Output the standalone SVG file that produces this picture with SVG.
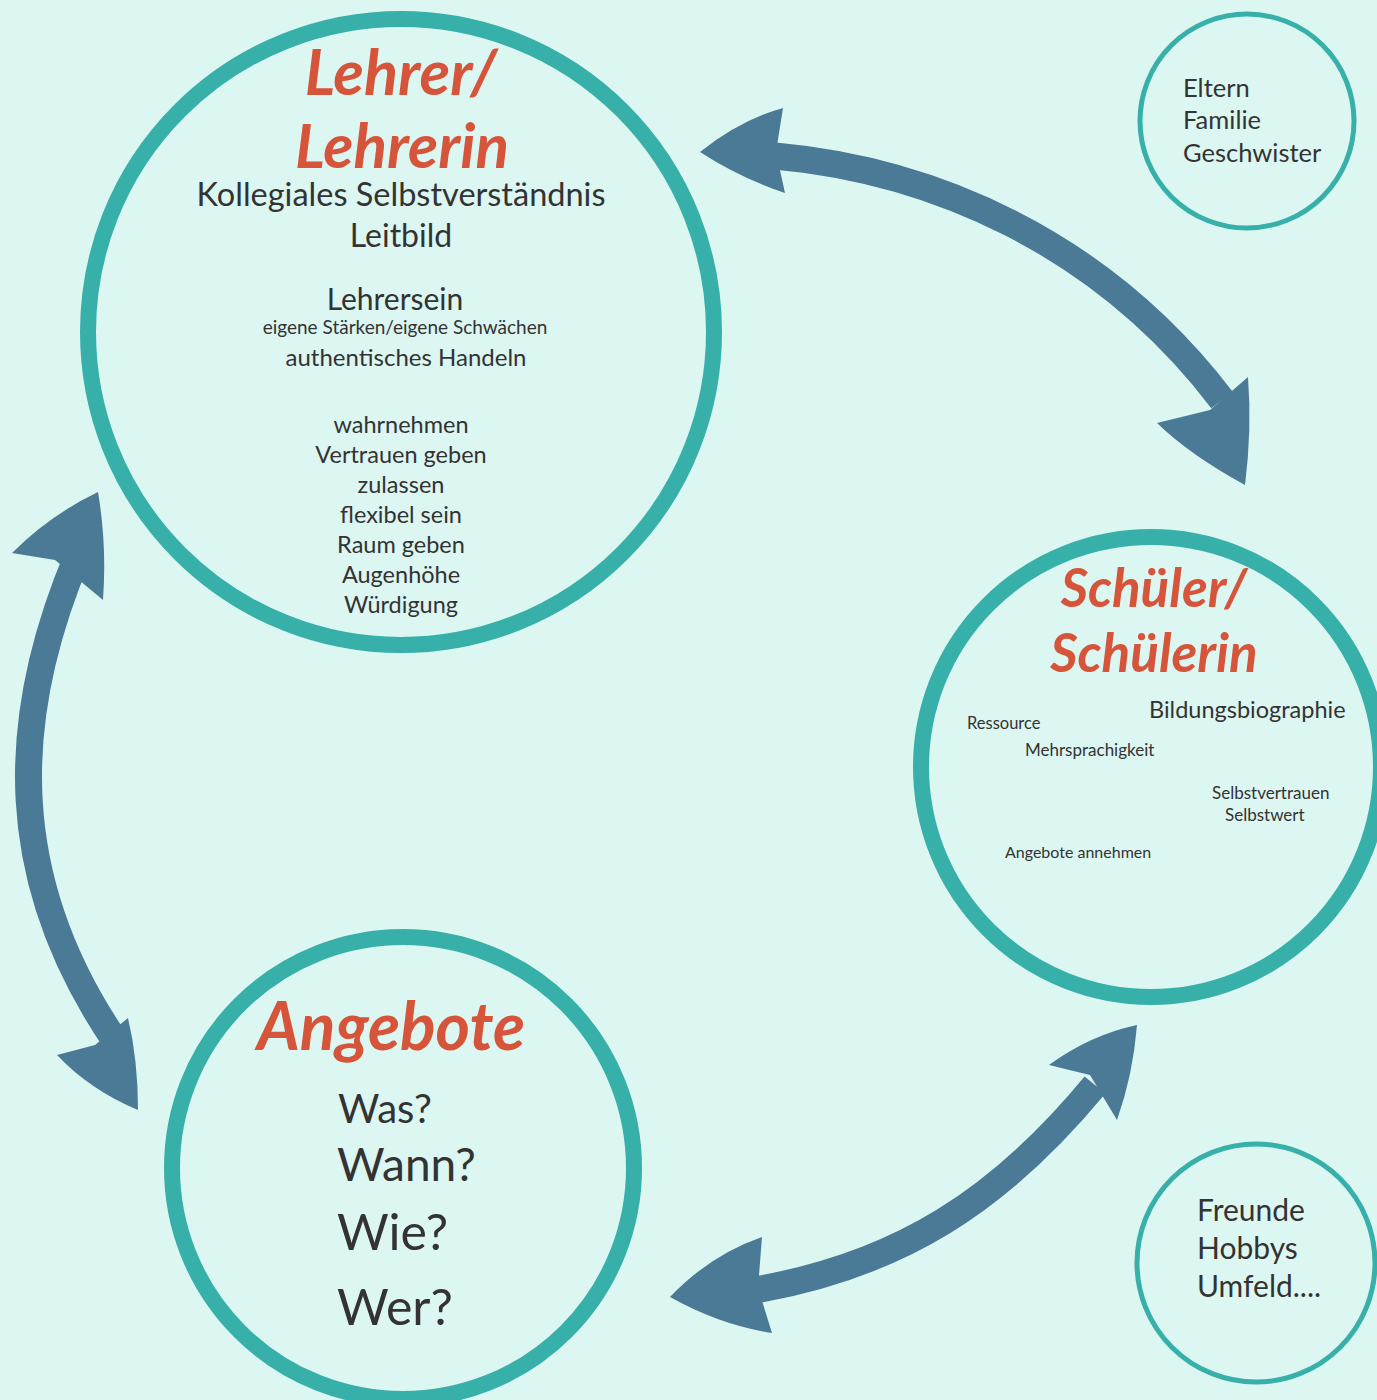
<svg xmlns="http://www.w3.org/2000/svg" width="1377" height="1400" viewBox="0 0 1377 1400">
<style>
.ring{fill:none;stroke:#37b0aa}
.big{stroke-width:16}
.small{stroke-width:5}
.title{font-family:Lato,"Open Sans",sans-serif;font-weight:bold;font-style:italic;fill:#d6553a}
.t{font-family:Lato,"Open Sans",sans-serif;fill:#333333}
.shaft{fill:none;stroke:#4a7a96;stroke-width:27}
.head{fill:#4a7a96}
</style>
<rect width="1377" height="1400" fill="#dcf6f2"/>
<g id="connectors">
  <path class="shaft" d="M775,156 C930,170 1100,240 1222,400"/>
  <path class="head" d="M700,152 Q740,120 783,108 L776,152 L785,193 Q740,178 700,152 Z"/>
  <path class="head" d="M1245,485 Q1190,455 1157,423 L1210,410 L1248,377 Q1252,430 1245,485 Z"/>
  <path class="shaft" d="M78,555 C8,720 5,880 116,1042"/>
  <path class="head" d="M98,492 Q50,515 12,553 L55,560 L103,600 Q107,545 98,492 Z"/>
  <path class="head" d="M138,1110 Q90,1090 57,1055 L95,1045 L128,1018 Q138,1060 138,1110 Z"/>
  <path class="shaft" d="M755,1290 C900,1265 1000,1200 1095,1085"/>
  <path class="head" d="M670,1297 Q710,1255 762,1237 L758,1288 L772,1333 Q720,1325 670,1297 Z"/>
  <path class="head" d="M1137,1025 Q1090,1035 1049,1065 L1090,1075 L1117,1120 Q1133,1075 1137,1025 Z"/>
</g>
<g id="lehrer">
  <circle class="ring big" cx="401" cy="332" r="313"/>
  <text class="title" x="401" y="95" font-size="63" text-anchor="middle">Lehrer/</text>
  <text class="title" x="402" y="168" font-size="62" text-anchor="middle">Lehrerin</text>
  <text class="t" x="401" y="206" font-size="32.5" text-anchor="middle">Kollegiales Selbstverständnis</text>
  <text class="t" x="401" y="247" font-size="32" text-anchor="middle">Leitbild</text>
  <text class="t" x="395" y="310" font-size="30" text-anchor="middle">Lehrersein</text>
  <text class="t" x="405" y="334" font-size="19" text-anchor="middle">eigene Stärken/eigene Schwächen</text>
  <text class="t" x="406" y="366" font-size="24" text-anchor="middle">authentisches Handeln</text>
  <text class="t" x="401" y="433" font-size="23.5" text-anchor="middle">wahrnehmen</text>
  <text class="t" x="401" y="463" font-size="23.5" text-anchor="middle">Vertrauen geben</text>
  <text class="t" x="401" y="493" font-size="23.5" text-anchor="middle">zulassen</text>
  <text class="t" x="401" y="523" font-size="23.5" text-anchor="middle">flexibel sein</text>
  <text class="t" x="401" y="553" font-size="23.5" text-anchor="middle">Raum geben</text>
  <text class="t" x="401" y="583" font-size="23.5" text-anchor="middle">Augenhöhe</text>
  <text class="t" x="401" y="613" font-size="23.5" text-anchor="middle">Würdigung</text>
</g>
<g id="schueler">
  <circle class="ring big" cx="1151" cy="767" r="230"/>
  <text class="title" x="1154" y="607" font-size="53" text-anchor="middle">Schüler/</text>
  <text class="title" x="1154" y="672" font-size="53" text-anchor="middle">Schülerin</text>
  <text class="t" x="1149" y="718" font-size="23.5">Bildungsbiographie</text>
  <text class="t" x="967" y="729" font-size="16.5">Ressource</text>
  <text class="t" x="1025" y="756" font-size="17">Mehrsprachigkeit</text>
  <text class="t" x="1212" y="799" font-size="17">Selbstvertrauen</text>
  <text class="t" x="1225" y="821" font-size="17">Selbstwert</text>
  <text class="t" x="1005" y="858" font-size="16">Angebote annehmen</text>
</g>
<g id="angebote">
  <circle class="ring big" cx="403" cy="1168" r="231"/>
  <text class="title" x="391" y="1050" font-size="66" text-anchor="middle">Angebote</text>
  <text class="t" x="338" y="1123" font-size="40">Was?</text>
  <text class="t" x="337" y="1181" font-size="46">Wann?</text>
  <text class="t" x="337" y="1250" font-size="50">Wie?</text>
  <text class="t" x="337" y="1325" font-size="50">Wer?</text>
</g>
<g id="eltern">
  <circle class="ring small" cx="1247" cy="121" r="107"/>
  <text class="t" x="1183" y="97" font-size="25.5">Eltern</text>
  <text class="t" x="1183" y="129" font-size="25.5">Familie</text>
  <text class="t" x="1183" y="162" font-size="25.5">Geschwister</text>
</g>
<g id="freunde">
  <circle class="ring small" cx="1256" cy="1263" r="119"/>
  <text class="t" x="1197" y="1221" font-size="30">Freunde</text>
  <text class="t" x="1197" y="1259" font-size="30">Hobbys</text>
  <text class="t" x="1197" y="1297" font-size="30">Umfeld....</text>
</g>
</svg>
